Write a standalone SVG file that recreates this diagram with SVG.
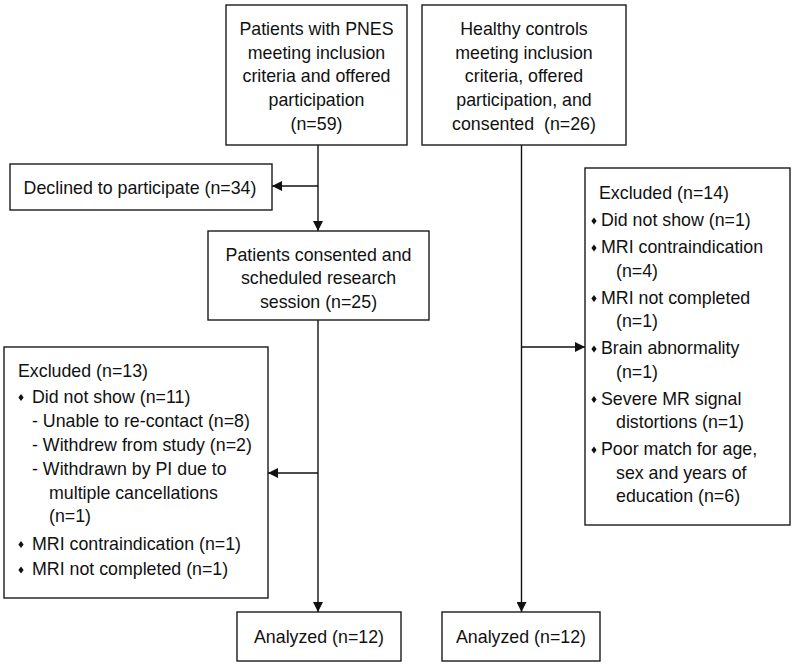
<svg xmlns="http://www.w3.org/2000/svg" width="794" height="664" viewBox="0 0 794 664">
<style>
  .box { fill: #ffffff; stroke: #1a1a1a; stroke-width: 1.4; }
  .t { font-family: "Liberation Sans", Arial, sans-serif; font-size: 17.8px; fill: #111111; }
  .c { text-anchor: middle; }
  .line { fill: none; stroke: #111111; stroke-width: 1.4; }
  .bul { fill: #111111; }
</style>
<defs>
  <marker id="arr" viewBox="0 0 10 10" refX="10" refY="5" markerWidth="10" markerHeight="10" markerUnits="userSpaceOnUse" orient="auto">
    <path d="M0,0 L10,5 L0,10 Z" fill="#111111"/>
  </marker>
  <path id="dia" d="M0,-3.6 L2.6,0 L0,3.6 L-2.6,0 Z"/>
</defs>
<rect width="794" height="664" fill="#ffffff"/>

<g id="connectors">
  <line class="line" x1="318" y1="145" x2="318" y2="231" marker-end="url(#arr)"/>
  <line class="line" x1="318" y1="186" x2="272" y2="186" marker-end="url(#arr)"/>
  <line class="line" x1="318" y1="320" x2="318" y2="612" marker-end="url(#arr)"/>
  <line class="line" x1="318" y1="473" x2="268" y2="473" marker-end="url(#arr)"/>
  <line class="line" x1="521.5" y1="145" x2="521.5" y2="612" marker-end="url(#arr)"/>
  <line class="line" x1="521.5" y1="347" x2="585" y2="347" marker-end="url(#arr)"/>
</g>

<g id="pnes">
  <rect class="box" x="226" y="5" width="181" height="140"/>
  <text class="t c" x="316.5" y="35">Patients with PNES</text>
  <text class="t c" x="316.5" y="58.7">meeting inclusion</text>
  <text class="t c" x="316.5" y="82.4">criteria and offered</text>
  <text class="t c" x="316.5" y="106.1">participation</text>
  <text class="t c" x="316.5" y="129.8">(n=59)</text>
</g>

<g id="controls">
  <rect class="box" x="422" y="5" width="204" height="140"/>
  <text class="t c" x="524" y="35">Healthy controls</text>
  <text class="t c" x="524" y="58.7">meeting inclusion</text>
  <text class="t c" x="524" y="82.4">criteria, offered</text>
  <text class="t c" x="524" y="106.1">participation, and</text>
  <text class="t c" x="524" y="129.8" xml:space="preserve">consented  (n=26)</text>
</g>

<g id="declined">
  <rect class="box" x="10" y="164" width="262" height="46"/>
  <text class="t c" x="140" y="194">Declined to participate (n=34)</text>
</g>

<g id="consented">
  <rect class="box" x="208" y="231" width="221" height="89"/>
  <text class="t c" x="318.5" y="260.7">Patients consented and</text>
  <text class="t c" x="318.5" y="284.4">scheduled research</text>
  <text class="t c" x="318.5" y="308">session (n=25)</text>
</g>

<g id="excluded-pnes">
  <rect class="box" x="4" y="347" width="264" height="251"/>
  <text class="t" x="18" y="377">Excluded (n=13)</text>
  <use href="#dia" class="bul" x="21" y="397.5"/>
  <text class="t" x="32" y="402.5">Did not show (n=11)</text>
  <text class="t" x="32" y="427">- Unable to re-contact (n=8)</text>
  <text class="t" x="32" y="451">- Withdrew from study (n=2)</text>
  <text class="t" x="32" y="475">- Withdrawn by PI due to</text>
  <text class="t" x="49" y="498.5">multiple cancellations</text>
  <text class="t" x="49" y="522">(n=1)</text>
  <use href="#dia" class="bul" x="21" y="544.5"/>
  <text class="t" x="32" y="549.5">MRI contraindication (n=1)</text>
  <use href="#dia" class="bul" x="21" y="570"/>
  <text class="t" x="32" y="575">MRI not completed (n=1)</text>
</g>

<g id="excluded-controls">
  <rect class="box" x="585" y="168" width="205" height="357"/>
  <text class="t" x="599" y="199">Excluded (n=14)</text>
  <use href="#dia" class="bul" x="594" y="221"/>
  <text class="t" x="601" y="226">Did not show (n=1)</text>
  <use href="#dia" class="bul" x="594" y="248"/>
  <text class="t" x="601" y="253">MRI contraindication</text>
  <text class="t" x="616" y="276.5">(n=4)</text>
  <use href="#dia" class="bul" x="594" y="298.5"/>
  <text class="t" x="601" y="303.5">MRI not completed</text>
  <text class="t" x="616" y="327">(n=1)</text>
  <use href="#dia" class="bul" x="594" y="349"/>
  <text class="t" x="601" y="354">Brain abnormality</text>
  <text class="t" x="616" y="377.5">(n=1)</text>
  <use href="#dia" class="bul" x="594" y="399.5"/>
  <text class="t" x="601" y="404.5">Severe MR signal</text>
  <text class="t" x="616" y="428">distortions (n=1)</text>
  <use href="#dia" class="bul" x="594" y="450"/>
  <text class="t" x="601" y="455">Poor match for age,</text>
  <text class="t" x="616" y="478.5">sex and years of</text>
  <text class="t" x="616" y="502">education (n=6)</text>
</g>

<g id="analyzed-pnes">
  <rect class="box" x="237" y="612" width="164" height="49"/>
  <text class="t c" x="319" y="643">Analyzed (n=12)</text>
</g>

<g id="analyzed-controls">
  <rect class="box" x="442" y="612" width="158" height="49"/>
  <text class="t c" x="521" y="643">Analyzed (n=12)</text>
</g>
</svg>
